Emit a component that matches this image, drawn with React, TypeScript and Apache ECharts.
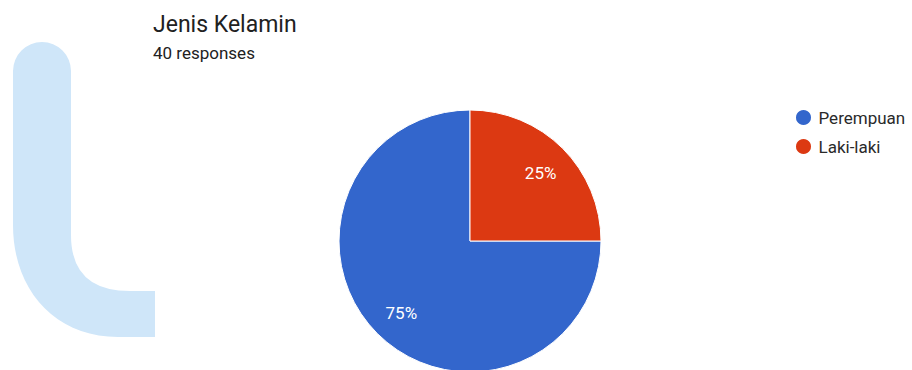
import React, { useEffect, useRef } from "react";
import * as echarts from "echarts";

const titleText = "Jenis Kelamin";
const subtitleText = "40 responses";
const categories = ["Perempuan", "Laki-laki"];
const values = [30, 10];
const colors = ["#3366cc", "#dc3912"];

const watermarkPath =
  "M13,71 A29,29 0 0 1 71,71 L71,235 Q71,291 130,291 L155,291 L155,337 L118,337 C55,337 13,290 13,225 Z";

let registered = false;
function ensureShape() {
  if (registered) return;
  echarts.graphic.registerShape("logo", echarts.graphic.extendPath(watermarkPath, {}));
  registered = true;
}

export default function App() {
  const ref = useRef<HTMLDivElement>(null);
  useEffect(() => {
    document.body.style.margin = "0";
    ensureShape();
    const chart = echarts.init(ref.current!, null, { renderer: "svg" });
    const data = categories.map((name, i) => ({
      name,
      value: values[i],
      itemStyle: { color: colors[i] },
    }));
    const font = "Roboto, 'Noto Sans', Arial, sans-serif";
    chart.setOption({
      animation: false,
      backgroundColor: "#ffffff",
      textStyle: { fontFamily: font },
      title: {
        text: titleText,
        subtext: subtitleText,
        left: 148,
        top: 8,
        padding: 5,
        itemGap: 8,
        textStyle: { fontSize: 23, fontWeight: "normal", color: "#212121", fontFamily: font },
        subtextStyle: { fontSize: 17, color: "#212121", fontFamily: font },
      },
      legend: {
        orient: "vertical",
        left: 794,
        top: 108,
        padding: 0,
        icon: "circle",
        itemWidth: 20,
        itemHeight: 17,
        itemGap: 10,
        data: categories,
        textStyle: { fontSize: 17, color: "#2a2a2a", fontFamily: font },
      },
      graphic: [
        {
          type: "logo",
          x: 0,
          y: 0,
          z: -10,
          silent: true,
          style: { fill: "#cfe6f9" },
        },
      ],
      series: [
        {
          type: "pie",
          center: [470, 241],
          radius: [0, 131],
          startAngle: 90,
          clockwise: false,
          data,
          label: { show: false },
          labelLine: { show: false },
          itemStyle: { borderColor: "#ffffff", borderWidth: 1 },
          emphasis: { disabled: true },
        },
        {
          type: "pie",
          center: [471, 243],
          radius: [60, 131],
          startAngle: 90,
          clockwise: false,
          silent: true,
          data: categories.map((name, i) => ({ name, value: values[i] })),
          itemStyle: { color: "rgba(0,0,0,0)", borderWidth: 0 },
          label: {
            show: true,
            position: "inside",
            formatter: (p: any) => `${Math.round(p.percent)}%`,
            color: "#ffffff",
            fontSize: 17,
            fontFamily: font,
          },
          labelLine: { show: false },
          emphasis: { disabled: true },
        },
      ],
    });
    return () => chart.dispose();
  }, []);
  return (
    <div
      ref={ref}
      style={{ position: "fixed", left: 0, top: 0, width: 912, height: 370 }}
    />
  );
}
